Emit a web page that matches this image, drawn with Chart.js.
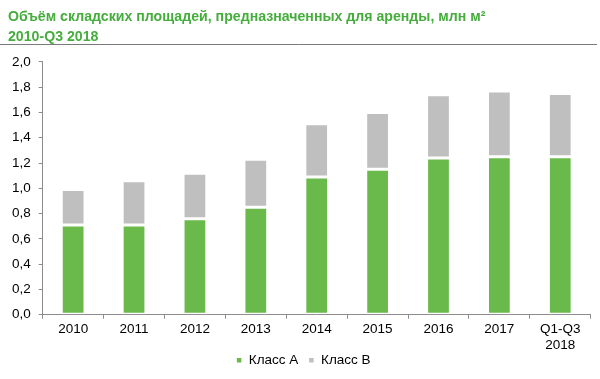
<!DOCTYPE html>
<html>
<head>
<meta charset="utf-8">
<script src="https://cdn.jsdelivr.net/npm/chart.js@4/dist/chart.umd.min.js"></script>
<style>
  html, body { margin: 0; padding: 0; background: #ffffff; }
  #wrap { width: 600px; height: 379px; position: relative; }
</style>
</head>
<body>
<div id="wrap"><canvas id="c" width="600" height="379"></canvas></div>
<script>
const categories = ['2010', '2011', '2012', '2013', '2014', '2015', '2016', '2017', ['Q1-Q3', '2018']];
const classA = [0.71, 0.71, 0.76, 0.85, 1.09, 1.15, 1.24, 1.25, 1.25];
const classB = [0.28, 0.35, 0.36, 0.38, 0.42, 0.45, 0.50, 0.52, 0.50];
const seriesNames = ['Класс А', 'Класс В'];
const titleLines = ['Объём складских площадей, предназначенных для аренды, млн м²', '2010-Q3 2018'];

const FONT = "'Liberation Sans', Arial, sans-serif";
const axisColor = '#8c8c8c';

const topRule = {
  id: 'topRule',
  afterDraw(chart) {
    const ctx = chart.ctx;
    ctx.save();
    ctx.strokeStyle = '#7a7a7a';
    ctx.lineWidth = 1;
    ctx.beginPath();
    ctx.moveTo(0, 44.5);
    ctx.lineTo(597, 44.5);
    ctx.stroke();
    ctx.restore();
  }
};

const legendNudge = {
  id: 'legendNudge',
  afterLayout(chart) {
    if (chart.legend) { chart.legend.left += 4; chart.legend.right += 4; }
  }
};

new Chart(document.getElementById('c'), {
  type: 'bar',
  data: {
    labels: categories,
    datasets: [
      { label: seriesNames[0], data: classA, backgroundColor: '#6ab94b', borderColor: '#ffffff', borderWidth: 1.5, borderSkipped: false },
      { label: seriesNames[1], data: classB, backgroundColor: '#bfbfbf', borderColor: '#ffffff', borderWidth: 1.5, borderSkipped: false }
    ]
  },
  options: {
    responsive: false,
    animation: false,
    devicePixelRatio: 1,
    layout: { padding: { left: 8, right: 9.3, top: 0, bottom: 2 } },
    datasets: { bar: { categoryPercentage: 1, barPercentage: 0.39 } },
    plugins: {
      title: {
        display: true,
        text: titleLines,
        align: 'start',
        color: '#45ad3c',
        font: { family: FONT, size: 14.15, weight: 'bold', lineHeight: 1.41 },
        padding: { top: 7, bottom: 15 }
      },
      legend: {
        position: 'bottom',
        labels: {
          usePointStyle: true,
          pointStyle: 'rect',
          boxWidth: 6,
          boxHeight: 6,
          color: '#000000',
          font: { family: FONT, size: 13.5 },
          padding: 10
        }
      },
      tooltip: { enabled: false }
    },
    scales: {
      x: {
        stacked: true,
        afterFit: (s) => { s.height = 28.8; s._computeLabelArea = () => undefined; },
        grid: { drawOnChartArea: false, drawTicks: true, tickLength: 4, color: axisColor, offset: true },
        border: { color: axisColor, width: 1 },
        ticks: { color: '#000000', font: { family: FONT, size: 13.5, lineHeight: 1.15 }, padding: 3, maxRotation: 0, autoSkip: false }
      },
      y: {
        stacked: true,
        min: 0,
        max: 2,
        afterFit: (s) => { s.width = 34.7; },
        grid: { drawOnChartArea: false, drawTicks: true, tickLength: 4, color: axisColor },
        border: { color: axisColor, width: 1 },
        ticks: {
          stepSize: 0.2,
          color: '#000000',
          font: { family: FONT, size: 13.5 },
          padding: 8,
          callback: (v) => Number(v).toFixed(1).replace('.', ',')
        }
      }
    }
  },
  plugins: [topRule, legendNudge]
});
</script>
</body>
</html>
